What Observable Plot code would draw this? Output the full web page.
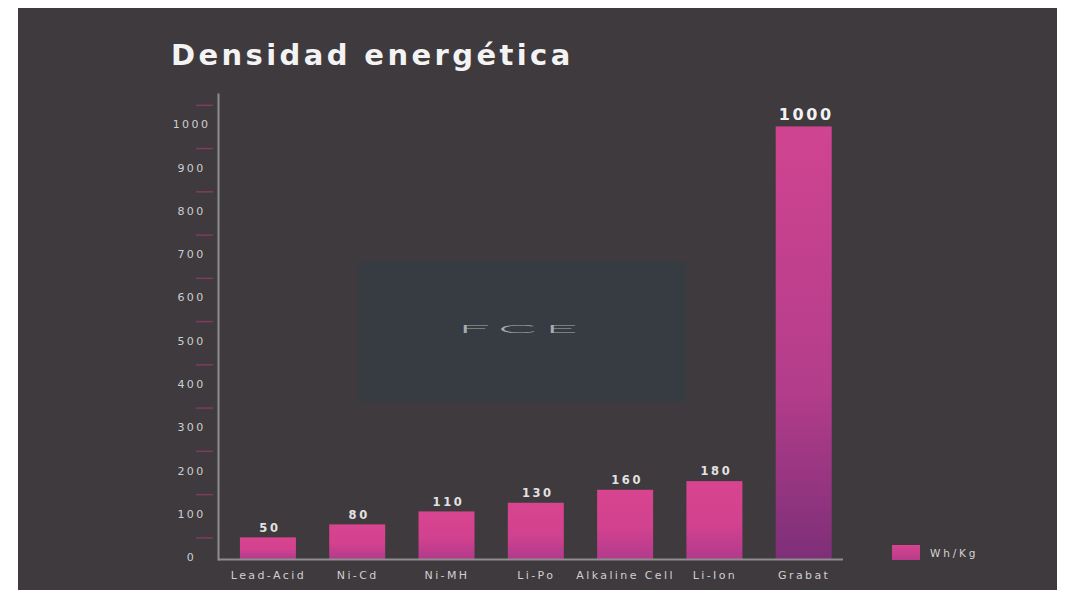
<!DOCTYPE html>
<html>
<head>
<meta charset="utf-8">
<script src="https://cdn.jsdelivr.net/npm/d3@7"></script>
<script src="https://cdn.jsdelivr.net/npm/@observablehq/plot@0.6"></script>
<style>
html, body { margin: 0; padding: 0; background: #ffffff; }
#wrap { position: relative; width: 1069px; height: 593px; overflow: hidden; }
#panel { position: absolute; left: 18px; top: 8px; width: 1039px; height: 582px; background: #3e3a3e; }
#wm { position: absolute; left: 358px; top: 261px; width: 328px; height: 141px; background: #373c42; }
#wm span { position: absolute; left: 0; right: 0; top: 61px; text-align: center; font-family: Lato, sans-serif; font-weight: 300; font-size: 11px; color: #a6abaf; letter-spacing: 1.6px; transform: scaleX(5.2); transform-origin: 50% 50%; }
#title { position: absolute; left: 171px; top: 41px; margin: 0; font-family: "DejaVu Sans", sans-serif; font-weight: 700; font-size: 29px; line-height: 29px; letter-spacing: 3.4px; color: #f3f3f3; white-space: nowrap; }
#chart { position: absolute; left: 0; top: 0; }
#legend { position: absolute; left: 892px; top: 545px; display: flex; align-items: center; font-family: "DejaVu Sans", sans-serif; font-size: 10.5px; letter-spacing: 2.8px; color: #d4d4d4; }
#legend .sw { width: 28px; height: 15px; background: linear-gradient(#d6448f, #b83b8c); margin-right: 10px; }
</style>
</head>
<body>
<div id="wrap">
  <div id="panel"></div>
  <div id="wm"><span>FCE</span></div>
  <div id="chart"></div>
  <h1 id="title">Densidad energética</h1>
  <div id="legend"><div class="sw"></div><span>Wh/Kg</span></div>
</div>
<script>
const categories = ["Lead-Acid", "Ni-Cd", "Ni-MH", "Li-Po", "Alkaline Cell", "Li-Ion", "Grabat"];
const values = [50, 80, 110, 130, 160, 180, 1000];
const yTicks = [0, 100, 200, 300, 400, 500, 600, 700, 800, 900, 1000];
const minorTicks = [50, 150, 250, 350, 450, 550, 650, 750, 850, 950, 1050];
const yMax = 1075;

const data = categories.map((c, i) => ({name: c, value: values[i]}));
const isBig = d => d.value >= 500;

const chart = Plot.plot({
  width: 1069,
  height: 593,
  marginTop: 94,
  marginBottom: 34,
  marginLeft: 218,
  marginRight: 226,
  style: {background: "transparent", fontFamily: "'DejaVu Sans', sans-serif", color: "#d0d0d0", overflow: "visible"},
  x: {domain: categories, paddingInner: 0.373, paddingOuter: 0.186, align: 0.66, round: false, label: null},
  y: {domain: [0, yMax], label: null},
  marks: [
    Plot.axisY({ticks: minorTicks, tickSize: 17, dx: -5, stroke: "#7e3d5f", strokeWidth: 1.5, fill: "none", label: null}),
    Plot.axisY({ticks: yTicks, tickFormat: d => String(d), tickSize: 0, tickPadding: 27, dy: -2, textAnchor: "middle", fontSize: 11, fill: "#cfcfcf", label: null}),
    Plot.axisX({tickSize: 0, tickPadding: 12, fontSize: 11, fill: "#d0d0d0", label: null}),
    Plot.barY(data, {filter: d => !isBig(d), x: "name", y: "value", fill: "url(#gradSmall)"}),
    Plot.barY(data, {filter: isBig, x: "name", y: "value", fill: "url(#gradBig)"}),
    Plot.frame({anchor: "left", stroke: "#8e8e8e", strokeWidth: 2}),
    Plot.ruleY([0], {stroke: "#8e8e8e", strokeWidth: 2}),
    Plot.text(data, {filter: d => !isBig(d), x: "name", y: "value", text: d => String(d.value), dy: -10, dx: 1.5, fontSize: 11.5, fontWeight: 700, fill: "#e2e2e2"}),
    Plot.text(data, {filter: isBig, x: "name", y: "value", text: d => String(d.value), dy: -12, dx: 2, fontSize: 16, fontWeight: 700, fill: "#f2f2f2"})
  ]
});

const svg = d3.select(chart);
const defs = svg.insert("defs", ":first-child");
const g1 = defs.append("linearGradient").attr("id", "gradSmall").attr("x1", 0).attr("y1", 0).attr("x2", 0).attr("y2", 1);
g1.append("stop").attr("offset", "0").attr("stop-color", "#d8448f");
g1.append("stop").attr("offset", "0.55").attr("stop-color", "#d2428f");
g1.append("stop").attr("offset", "1").attr("stop-color", "#b23a8c");
const g2 = defs.append("linearGradient").attr("id", "gradBig").attr("x1", 0).attr("y1", 0).attr("x2", 0).attr("y2", 1);
g2.append("stop").attr("offset", "0").attr("stop-color", "#d04490");
g2.append("stop").attr("offset", "0.6").attr("stop-color", "#b43d8b");
g2.append("stop").attr("offset", "1").attr("stop-color", "#7e2f78");

svg.selectAll('g[aria-label="y-axis tick label"] text').style("letter-spacing", "2.4px");
svg.selectAll('g[aria-label="x-axis tick label"] text').style("letter-spacing", "2.4px");
svg.selectAll('g[aria-label="text"] text').style("letter-spacing", "2.6px");

document.getElementById("chart").appendChild(chart);
</script>
</body>
</html>
